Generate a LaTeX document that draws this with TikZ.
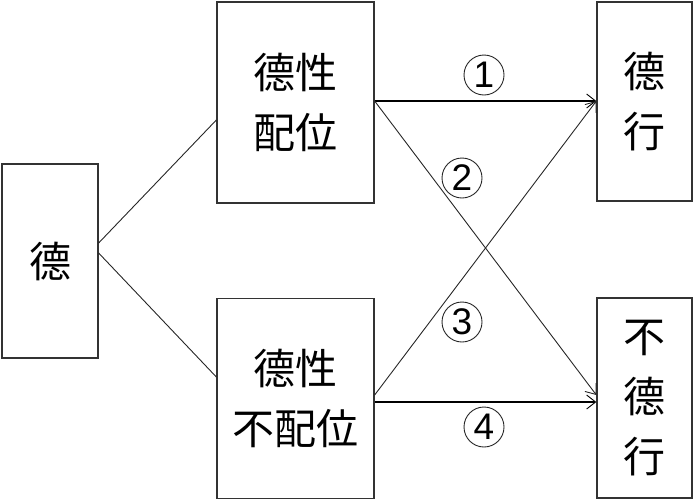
\documentclass[tikz,border=0pt]{standalone}
\usepackage{fontspec}
\newfontfamily\cjk{Noto Sans CJK JP}
\newfontfamily\numfont{Liberation Sans}
\usetikzlibrary{arrows.meta}
\tikzset{
  box/.style={draw=black!80, line width=1.3pt, rectangle, inner sep=0pt, align=center,
    font=\cjk\fontsize{42}{60}\selectfont},
  thin/.style={draw=black!85, line width=0.9pt},
  thick/.style={draw=black, line width=2pt},
  arr/.style={-{Straight Barb[length=9pt,width=14pt,line width=0.9pt]}},
  num/.style={draw=black!85, circle, line width=0.9pt, minimum size=40pt, inner sep=0pt,
    font=\numfont\fontsize{37}{37}\selectfont}
}
\begin{document}
\begin{tikzpicture}[x=1pt,y=-1pt]
\useasboundingbox (0,0) rectangle (695,501);
\node[box, minimum width=96pt, minimum height=194pt] (de) at (50,261) {德};
\node[box, minimum width=157pt, minimum height=201pt] (pw) at (295.5,102.5) {德性\\配位};
\node[box, minimum width=157pt, minimum height=200pt] (npw) at (295.5,398.5) {德性\\不配位};
\node[box, minimum width=95pt, minimum height=199pt] (dx) at (644.5,101.5) {德\\行};
\node[box, minimum width=95pt, minimum height=200pt] (ndx) at (644.5,398) {不\\德\\行};
\draw[thin] ([yshift=18pt]de.east) -- ([yshift=-17.5pt]pw.west);
\draw[thin] ([yshift=8pt]de.east) -- ([yshift=21.5pt]npw.west);
\draw[thick, arr] ([yshift=1.5pt]pw.east) -- ([yshift=0.5pt]dx.west);
\draw[thin, arr] ([yshift=1.5pt]pw.east) -- ([yshift=3pt]ndx.west);
\draw[thin, arr] ([yshift=3.5pt]npw.east) -- ([yshift=0.5pt]dx.west);
\draw[thick, arr] ([yshift=-3.5pt]npw.east) -- ([yshift=-4pt]ndx.west);
\node[num] (n1) at (484,75) {1};
\node[num] (n2) at (462,178) {2};
\node[num] (n3) at (462,322) {3};
\node[num] (n4) at (484,427) {4};
\end{tikzpicture}
\end{document}
